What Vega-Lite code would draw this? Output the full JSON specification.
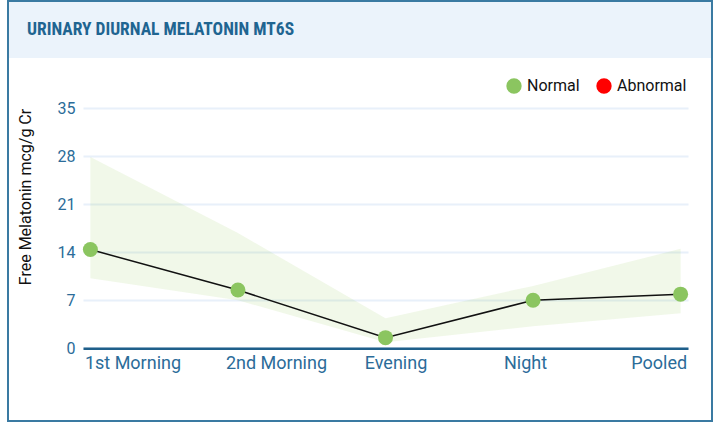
{
  "$schema": "https://vega.github.io/schema/vega-lite/v6.json",
  "width": 704,
  "height": 420,
  "padding": {"left": 8, "top": 1, "right": 7, "bottom": 2},
  "autosize": {"type": "none"},
  "background": "white",
  "config": {
    "font": "Roboto",
    "view": {
      "stroke": "#3a7aa2",
      "strokeWidth": 2,
      "fill": {
        "gradient": "linear", "x1": 0, "y1": 0, "x2": 0, "y2": 1,
        "stops": [
          {"offset": 0, "color": "#ebf3fb"},
          {"offset": 0.135, "color": "#ebf3fb"},
          {"offset": 0.1352, "color": "#ffffff"},
          {"offset": 1, "color": "#ffffff"}
        ]
      }
    }
  },
  "title": {
    "text": "URINARY DIURNAL MELATONIN MT6S",
    "anchor": "start",
    "frame": "group",
    "orient": "top",
    "offset": -34,
    "dy": 17.5,
    "baseline": "alphabetic",
    "dx": 19,
    "font": "Roboto Condensed, Roboto, sans-serif",
    "fontSize": 17.5,
    "fontWeight": "bold",
    "color": "#1f6591"
  },
  "data": {
    "values": [
      {"period": "1st Morning", "value": 14.4, "low": 10.2, "high": 27.9, "status": "Normal"},
      {"period": "2nd Morning", "value": 8.5, "low": 7.0, "high": 16.8, "status": "Normal"},
      {"period": "Evening", "value": 1.55, "low": 0.9, "high": 4.4, "status": "Normal"},
      {"period": "Night", "value": 7.0, "low": 3.2, "high": 9.1, "status": "Normal"},
      {"period": "Pooled", "value": 7.9, "low": 5.1, "high": 14.5, "status": "Normal"}
    ]
  },
  "encoding": {
    "x": {
      "field": "period",
      "type": "ordinal",
      "sort": null,
      "scale": {"type": "point", "range": [75, 680], "padding": 0.05},
      "axis": {
        "title": null,
        "orient": "bottom",
        "offset": -72.7,
        "domainColor": "#1f5f8a",
        "domainWidth": 2.5,
        "ticks": false,
        "grid": false,
        "labelAngle": 0,
        "labelFont": "Roboto",
        "labelFontSize": 18,
        "labelColor": "#2b6c99",
        "labelBaseline": "alphabetic",
        "labelPadding": 20,
        "labelFlush": 10,
        "labelFlushOffset": 6,
        "labelOffset": {
          "condition": [
            {"test": "datum.value === '2nd Morning'", "value": 38},
            {"test": "datum.value === 'Evening'", "value": 10},
            {"test": "datum.value === 'Night'", "value": -8}
          ],
          "value": 0
        }
      }
    }
  },
  "layer": [
    {
      "mark": {"type": "area", "interpolate": "linear", "color": "#8bc34a", "opacity": 0.12},
      "encoding": {
        "y": {
          "field": "low",
          "type": "quantitative",
          "title": "Free Melatonin mcg/g Cr",
          "scale": {"domain": [0, 35], "range": [347.3, 107.3], "nice": false, "zero": true},
          "axis": {
            "orient": "left",
            "offset": -75,
            "values": [0, 7, 14, 21, 28, 35],
            "domain": false,
            "ticks": false,
            "labelPadding": 8,
            "labelFont": "Roboto",
            "labelFontSize": 16,
            "labelColor": "#2b6c99",
            "grid": true,
            "gridColor": "#e8f0fa",
            "gridWidth": 2,
            "titleAnchor": "end",
            "titleFont": "Roboto",
            "titleFontSize": 16,
            "titleFontWeight": "normal",
            "titleColor": "#111111",
            "titlePadding": 24
          }
        },
        "y2": {"field": "high"}
      }
    },
    {
      "mark": {"type": "line", "color": "#111111", "strokeWidth": 1.5},
      "encoding": {
        "y": {"field": "value", "type": "quantitative", "title": "Free Melatonin mcg/g Cr"}
      }
    },
    {
      "mark": {"type": "point", "filled": true, "size": 225, "opacity": 1},
      "encoding": {
        "y": {"field": "value", "type": "quantitative", "title": "Free Melatonin mcg/g Cr"},
        "color": {
          "field": "status",
          "type": "nominal",
          "scale": {"domain": ["Normal", "Abnormal"], "range": ["#8bc560", "#ff0000"]},
          "legend": {
            "title": null,
            "orient": "none",
            "legendX": 498,
            "legendY": 77,
            "direction": "horizontal",
            "symbolType": "circle",
            "symbolSize": 235,
            "symbolStrokeWidth": 0,
            "symbolOpacity": 1,
            "labelFont": "Roboto",
            "labelFontSize": 16,
            "labelColor": "#111111",
            "labelOffset": 5,
            "columnPadding": 16
          }
        }
      }
    }
  ]
}
